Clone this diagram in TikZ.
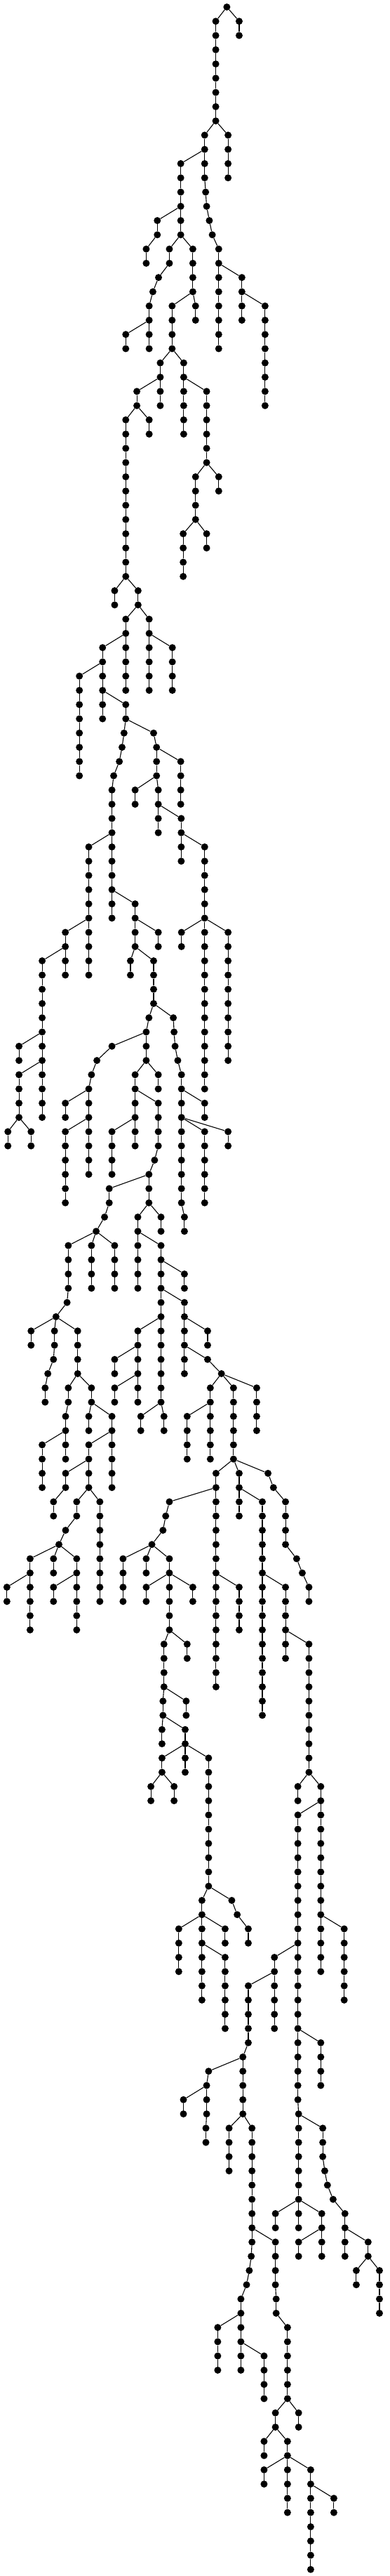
\documentclass[tikz,border=0pt]{standalone}
\begin{document}
\begin{tikzpicture}[x=0.3515pt,y=-20.27pt,
	vertex/.style={circle,fill=black,inner sep=0pt,minimum size=10pt},
	edge/.style={line width=1.1pt}]
	\useasboundingbox (0,-0.4933) rectangle (1579,180.46);
	\node[vertex] (n0-920) at (920,0) {};
	% chains: first level / last level / column / column of the parent
	\foreach \lo/\hi/\cx/\pc in {
		1/2/970/920, 1/8/875/920,
		9/12/830/875, 9/12/925/875,
		11/16/733/830, 13/13/834/830, 14/14/838/834,
		15/15/849/838, 15/16/638/733, 16/16/861/849,
		17/24/887/861, 17/18/593/638, 17/18/687/733, 17/20/782/733,
		19/19/643/687, 19/22/981/887, 20/20/620/643,
		21/24/605/620, 21/24/698/782, 21/22/793/782, 21/28/1075/981,
		23/24/510/605, 25/28/650/698, 25/30/745/698,
		27/28/555/650, 27/32/838/745,
		29/40/510/555, 29/30/605/555,
		33/36/793/838, 33/34/887/838,
		37/40/743/793, 37/38/838/793,
		41/42/465/510, 41/42/560/510,
		43/48/510/560, 43/48/605/560,
		45/48/699/605, 45/50/416/510,
		47/54/322/416, 49/50/510/416,
		51/51/503/510, 51/51/623/510, 52/52/495/503, 52/54/635/623,
		53/53/484/495, 53/56/733/635, 54/54/461/484,
		55/64/454/461, 55/58/642/635, 55/56/548/635,
		57/60/735/642, 59/76/830/735, 59/68/360/454,
		63/66/548/454,
		65/66/642/548, 65/66/736/830, 65/74/925/830, 65/68/265/360,
		67/78/171/265, 67/68/529/548, 67/70/623/548,
		71/71/604/623, 71/71/703/623, 72/74/593/604, 72/72/706/703,
		73/74/77/171, 73/73/710/706, 73/73/454/593,
		74/74/721/710, 74/74/393/454,
		75/78/77/171, 75/84/736/721, 75/75/371/393, 75/80/548/593, 75/76/642/593,
		76/82/360/371,
		77/78/830/736, 77/78/265/360, 77/80/642/548,
		79/80/32/77, 79/80/126/77, 79/84/830/736, 79/80/925/736, 79/84/265/360, 79/82/454/548,
		81/81/627/642, 82/84/604/627, 83/84/443/604,
		85/86/748/736, 85/85/424/443, 85/90/559/604, 85/86/653/604,
		86/86/390/424,
		87/90/277/390, 87/90/371/390, 87/90/465/390, 87/98/653/559,
		89/90/748/653, 91/91/272/277, 91/96/748/653, 92/92/227/272,
		93/94/842/748, 93/94/126/227, 93/94/221/227, 93/96/315/227, 93/98/559/653,
		95/95/842/748, 95/95/217/221, 95/96/465/559,
		96/96/898/842, 96/96/194/217,
		97/102/853/898, 97/102/947/898, 97/100/1041/898, 97/98/183/194,
		97/98/277/315, 97/98/371/315, 97/98/465/559,
		99/102/759/853, 99/102/266/277, 99/100/360/371, 99/104/454/371,
		99/100/571/653, 99/100/665/653,
		101/104/171/266, 101/104/360/454,
		103/104/266/360, 103/118/876/947, 103/106/970/947, 103/103/1087/947,
		104/104/1109/1087,
		105/106/217/266, 105/106/311/360, 105/112/405/360, 105/120/1064/970,
		105/108/1158/1109, 105/105/687/876,
		106/106/672/687, 107/107/266/311, 107/107/661/672,
		108/108/239/266, 108/108/616/661,
		109/114/122/239, 109/110/217/239, 109/114/311/239, 109/109/1203/1158,
		109/112/499/616, 109/110/593/616, 109/114/687/616,
		110/110/1226/1203,
		111/112/28/122, 111/112/217/311, 111/114/970/876, 111/116/1158/1064,
		111/112/1253/1226, 111/112/593/687, 111/112/782/687,
		115/124/1253/1158, 115/118/665/687, 115/116/759/687,
		119/120/661/665, 119/120/755/665,
		121/122/657/661, 121/122/751/661,
		123/124/751/751, 123/124/657/751, 123/132/846/751,
		125/126/612/657, 125/126/706/657, 125/126/1208/1253, 125/138/1301/1253,
		127/147/1208/1301,
		133/140/819/846, 133/133/940/846, 134/134/962/940,
		135/140/1396/1301, 135/138/725/819, 135/136/913/819, 135/136/1007/962,
		137/142/913/819, 137/142/1113/1208,
		139/143/1007/1113, 143/146/1301/1208, 144/148/985/1007,
		145/145/846/985, 146/148/838/846, 147/148/744/838,
		148/156/1211/1208,
		149/150/835/838, 149/152/929/985, 149/157/1022/985, 149/151/1309/1211,
		152/152/1317/1309, 153/153/1328/1317, 154/154/1351/1328,
		155/158/1399/1351, 155/156/1117/1211, 155/158/1305/1211,
		157/158/1493/1399, 157/158/1211/1305, 157/160/1117/1022,
		158/158/1019/1022,
		159/160/1445/1493, 159/162/1539/1493, 159/159/1011/1019,
		160/160/1000/1011,
		161/166/977/1000, 161/162/1120/1117,
		163/166/883/977, 163/168/1166/1120, 165/168/1071/977,
		169/170/1117/1166, 169/170/1211/1166,
		171/172/1071/1117, 171/176/1166/1117,
		173/174/1071/1166, 173/180/1260/1166, 175/176/1354/1260}{
		\pgfmathtruncatemacro\up{\lo-1}
		\node[vertex] (n\lo-\cx) at (\cx,\lo) {};
		\draw[edge] (n\up-\pc) -- (n\lo-\cx);
		\ifnum\hi>\lo
			\pgfmathtruncatemacro\nxt{\lo+1}
			\foreach \l in {\nxt,...,\hi}{
				\pgfmathtruncatemacro\k{\l-1}
				\node[vertex] (n\l-\cx) at (\cx,\l) {};
				\draw[edge] (n\k-\cx) -- (n\l-\cx);
			}
		\fi
	}
\end{tikzpicture}
\end{document}
